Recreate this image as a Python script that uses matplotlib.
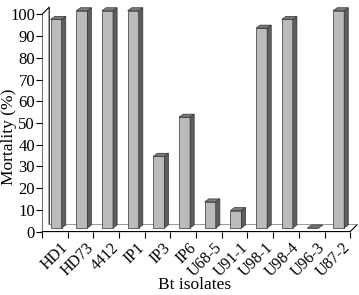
import numpy as np
import matplotlib.pyplot as plt
from matplotlib.patches import Polygon
from matplotlib.transforms import ScaledTranslation

plt.rcParams['font.family'] = ['Liberation Serif', 'DejaVu Serif']

isolates = ['HD1', 'HD73', '4412', 'IP1', 'IP3', 'IP6', 'U68-5', 'U91-1',
            'U98-1', 'U98-4', 'U96-3', 'U87-2']
mortality = [96, 100, 100, 100, 33, 51, 12, 8, 92, 96, 0, 100]
yticks = list(range(0, 101, 10))

# fake 3d look (excel style)
floor_dx, floor_dy = 0.28, 3.3     # depth of the floor / wall
bar_dx, bar_dy = 0.16, 1.4         # depth of a single bar
bar_w = 0.43

fig = plt.figure(figsize=(3.59, 2.95), dpi=100)
ax = fig.add_axes([0.117, 0.215, 0.880, 0.768])
n = len(isolates)
ax.set_xlim(0, n + 0.3)
ax.set_ylim(0, 104.3)

lc = 'black'
lw = 0.8
# walls and floor
ax.plot([0, 0, floor_dx, floor_dx], [0, 100, 100 + floor_dy, floor_dy], color=lc, lw=lw, zorder=1)
ax.plot([0, n, n + floor_dx], [0, 0, floor_dy], color=lc, lw=lw, zorder=1, clip_on=False)
ax.plot([floor_dx, n + floor_dx], [floor_dy, floor_dy], color='#888888', lw=0.6, zorder=1)

# bars
base = floor_dy / 2
for i, v in enumerate(mortality):
    x0 = i + 0.5 - bar_w / 2 + 0.05
    ax.bar(x0, v, width=bar_w, bottom=base, align='edge', color='#bbbbbb',
           edgecolor='#333333', linewidth=0.5, zorder=3)
    side = [(x0 + bar_w, base), (x0 + bar_w + bar_dx, base + bar_dy),
            (x0 + bar_w + bar_dx, base + v + bar_dy), (x0 + bar_w, base + v)]
    top = [(x0, base + v), (x0 + bar_dx, base + v + bar_dy),
           (x0 + bar_w + bar_dx, base + v + bar_dy), (x0 + bar_w, base + v)]
    ax.add_patch(Polygon(side, closed=True, facecolor='#5e5e5e', edgecolor='#333333', lw=0.5, zorder=3))
    ax.add_patch(Polygon(top, closed=True, facecolor='#7a7a7a', edgecolor='#333333', lw=0.5, zorder=3))

for s in ax.spines.values():
    s.set_visible(False)

ax.set_yticks(yticks)
ax.tick_params(axis='y', direction='out', length=4, width=lw, labelsize=12, pad=1)
ax.set_xticks(np.arange(n) + 0.5)
ax.set_xticklabels(isolates, rotation=45, ha='right', rotation_mode='anchor', fontsize=11.5)
ax.tick_params(axis='x', length=0, pad=6)
ax.set_xticks(np.arange(n + 1), minor=True)
ax.tick_params(axis='x', which='minor', direction='out', length=4, width=lw)
shift = ScaledTranslation(5 / 100, 0, fig.dpi_scale_trans)
for lab in ax.get_xticklabels():
    lab.set_transform(lab.get_transform() + shift)

fig.text(0.543, 0.035, 'Bt isolates', ha='center', va='center', fontsize=12.5)
fig.text(0.026, 0.535, 'Mortality (%)', ha='center', va='center', rotation=90, fontsize=12.5)

fig.savefig('out.png', dpi=100)
